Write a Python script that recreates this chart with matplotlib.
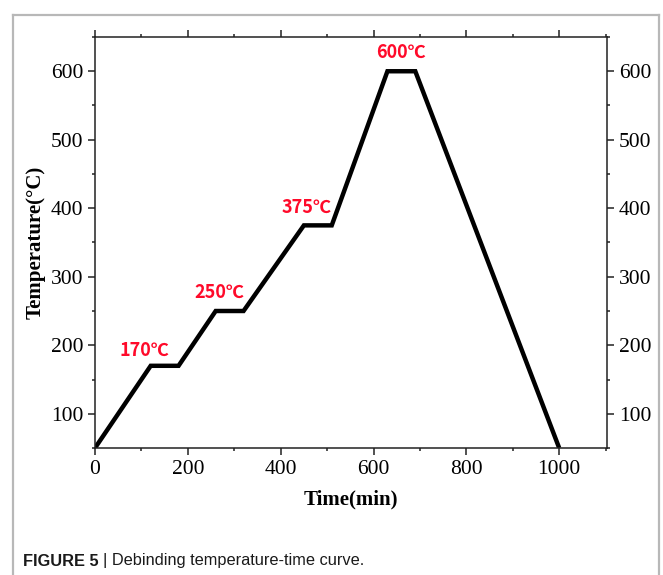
import matplotlib
matplotlib.use("Agg")
import matplotlib.pyplot as plt
from matplotlib import font_manager
from matplotlib.lines import Line2D
from matplotlib.ticker import MultipleLocator

# debinding schedule: time (min) vs furnace temperature (degC)
time_min = [0, 120, 180, 260, 320, 450, 510, 630, 690, 1000]
temp_c = [50, 170, 170, 250, 250, 375, 375, 600, 600, 50]

# hold temperatures and where their labels sit (time, temperature)
hold_labels = ["170℃", "250℃", "375℃", "600℃"]
label_x = [107, 267, 455, 660]
label_y = [192, 277, 401, 628]

SERIF = "Liberation Serif"
TICK_FS = 15.5

fig = plt.figure(figsize=(6.63, 5.75), dpi=100)
ax = fig.add_axes([95/663, 1 - 448/575, 512/663, 411/575])

ax.plot(time_min, temp_c, color="black", lw=3.2,
        solid_joinstyle="miter", solid_capstyle="butt")

for s, x, y in zip(hold_labels, label_x, label_y):
    ax.text(x, y, s, color="#ff0a2a", fontsize=13, ha="center", va="center",
            family=["Noto Sans CJK SC", "DejaVu Sans"], fontweight="bold")

ax.set_xlim(0, 1103)
ax.set_ylim(50, 650)
ax.xaxis.set_major_locator(MultipleLocator(200))
ax.xaxis.set_minor_locator(MultipleLocator(100))
ax.yaxis.set_minor_locator(MultipleLocator(50))
ax.set_yticks(range(100, 601, 100))

ax.tick_params(which="both", direction="out", top=True, right=True,
               labelright=True, width=1.1, color="#222222")
ax.tick_params(which="major", length=5)
ax.tick_params(which="minor", length=2.5)
for t in ax.xaxis.get_major_ticks() + ax.yaxis.get_major_ticks():
    for lab in (t.label1, t.label2):
        lab.set_family(SERIF)
        lab.set_fontsize(TICK_FS)
for sp in ax.spines.values():
    sp.set_linewidth(1.1)
    sp.set_color("#222222")

ax.set_xlabel("Time(min)", family=SERIF, fontweight="bold",
              fontsize=15, labelpad=8)
ax.set_ylabel("Temperature(°C)", family=SERIF, fontweight="bold",
              fontsize=15, labelpad=4)

# light grey frame around the figure panel
frame = dict(color="#b8b8b8", lw=1.6, transform=fig.transFigure)
fig.add_artist(Line2D([13/663, 13/663], [-0.01, 1 - 15/575], **frame))
fig.add_artist(Line2D([13/663, 659/663], [1 - 15/575, 1 - 15/575], **frame))
fig.add_artist(Line2D([659/663, 659/663], [-0.01, 1 - 15/575], **frame))

# caption: bold figure number followed by regular text
names = {f.name for f in font_manager.fontManager.ttflist}
if "Liberation Sans Narrow" in names:
    cap_font, cap_fs = "Liberation Sans Narrow", 14
else:
    cap_font, cap_fs = "Liberation Sans", 11.8
cap_y = 1 - 561/575
t1 = fig.text(23/663, cap_y, "FIGURE 5", family=cap_font,
              fontweight="bold", fontsize=cap_fs, va="center", color="#1a1a1a")
fig.canvas.draw()
bb = t1.get_window_extent(fig.canvas.get_renderer())
fig.text(bb.x1/663 + 4/663, cap_y, "| Debinding temperature-time curve.",
         family=cap_font, fontsize=cap_fs, va="center", color="#1a1a1a")

fig.savefig("out.png", dpi=100)
